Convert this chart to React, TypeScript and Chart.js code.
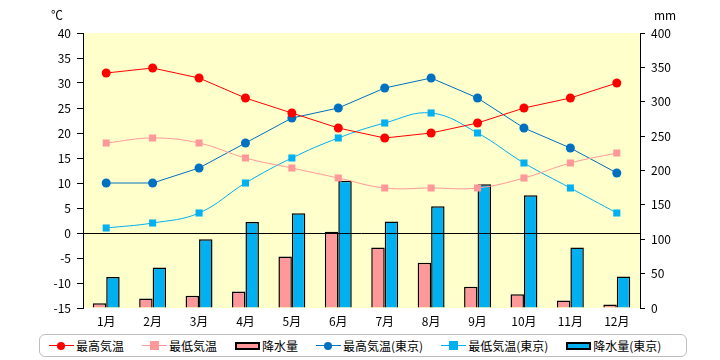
import React, { useEffect, useRef } from "react";
import { Chart, registerables } from "chart.js";

Chart.register(...registerables);

const months = ["1月", "2月", "3月", "4月", "5月", "6月", "7月", "8月", "9月", "10月", "11月", "12月"];
const maxTemp = [32, 33, 31, 27, 24, 21, 19, 20, 22, 25, 27, 30];
const minTemp = [18, 19, 18, 15, 13, 11, 9, 9, 9, 11, 14, 16];
const precip = [7, 14, 18, 24, 75, 111, 88, 66, 31, 20, 11, 5];
const tokyoMax = [10, 10, 13, 18, 23, 25, 29, 31, 27, 21, 17, 12];
const tokyoMin = [1, 2, 4, 10, 15, 19, 22, 24, 20, 14, 9, 4];
const tokyoPrecip = [45, 59, 100, 125, 138, 185, 126, 148, 180, 164, 88, 46];

const tempTicks = { min: -15, max: 40, step: 5 };
const mmTicks = { min: 0, max: 400, step: 50 };

const FONT = '"Noto Sans CJK JP", sans-serif';

const C_RED = "#FF0000";
const C_PINK = "#FF9999";
const C_DBLUE = "#0070C0";
const C_LBLUE = "#00B0F0";

const legendItems = [
  { label: "最高気温", kind: "line", color: C_RED, marker: "circle" },
  { label: "最低気温", kind: "line", color: C_PINK, marker: "square" },
  { label: "降水量", kind: "bar", color: C_PINK, marker: "" },
  { label: "最高気温(東京)", kind: "line", color: C_DBLUE, marker: "circle" },
  { label: "最低気温(東京)", kind: "line", color: C_LBLUE, marker: "square" },
  { label: "降水量(東京)", kind: "bar", color: C_LBLUE, marker: "" },
];

const decorPlugin = {
  id: "decor",
  beforeDraw(chart: any) {
    const { ctx, chartArea } = chart;
    ctx.save();
    ctx.fillStyle = "#FFFFCC";
    ctx.fillRect(chartArea.left, chartArea.top, chartArea.right - chartArea.left, chartArea.bottom - chartArea.top);
    ctx.restore();
  },
  afterDatasetsDraw(chart: any) {
    const { ctx, chartArea, scales } = chart;
    const y0 = Math.round(scales.y.getPixelForValue(0)) + 0.5;
    ctx.save();
    ctx.strokeStyle = "#000";
    ctx.lineWidth = 1;
    ctx.beginPath();
    ctx.moveTo(chartArea.left, y0);
    ctx.lineTo(chartArea.right, y0);
    ctx.stroke();
    ctx.fillStyle = "#000";
    ctx.font = "12px " + FONT;
    ctx.textAlign = "center";
    ctx.textBaseline = "middle";
    ctx.fillText("℃", chartArea.left - 26, 15);
    ctx.fillText("mm", chartArea.right + 25, 15);
    ctx.restore();
  },
};

export default function App() {
  const ref = useRef<HTMLCanvasElement>(null);

  useEffect(() => {
    if (!ref.current) return;
    const lineDs = (label: string, data: number[], color: string, style: string, tension: number) => ({
      type: "line" as const,
      label,
      data,
      yAxisID: "y",
      borderColor: color,
      backgroundColor: color,
      borderWidth: 1,
      pointStyle: style,
      pointRadius: style === "rect" ? 5 : 4.5,
      pointBorderWidth: 0,
      tension,
      order: 0,
    });
    const barDs = (label: string, data: number[], color: string) => ({
      type: "bar" as const,
      label,
      data,
      yAxisID: "y2",
      backgroundColor: color,
      borderColor: "#000",
      borderWidth: 1.5,
      categoryPercentage: 0.58,
      barPercentage: 1.0,
      order: 1,
    });
    const chart = new Chart(ref.current, {
      type: "bar",
      data: {
        labels: months,
        datasets: [
          lineDs("最高気温", maxTemp, C_RED, "circle", 0),
          lineDs("最低気温", minTemp, C_PINK, "rect", 0.4),
          barDs("降水量", precip, C_PINK),
          lineDs("最高気温(東京)", tokyoMax, C_DBLUE, "circle", 0),
          lineDs("最低気温(東京)", tokyoMin, C_LBLUE, "rect", 0.4),
          barDs("降水量(東京)", tokyoPrecip, C_LBLUE),
        ] as any,
      },
      options: {
        responsive: false,
        animation: false,
        layout: { padding: { top: 33, left: 0, right: 0, bottom: 0 } },
        plugins: { legend: { display: false }, tooltip: { enabled: false } },
        scales: {
          x: {
            offset: true,
            grid: { display: false, drawTicks: false },
            border: { display: false },
            ticks: { color: "#000", font: { family: FONT, size: 12 }, padding: 6, maxRotation: 0 },
            afterFit(s: any) { s.height = 22; },
          },
          y: {
            position: "left",
            min: tempTicks.min,
            max: tempTicks.max,
            ticks: { stepSize: tempTicks.step, color: "#000", font: { family: FONT, size: 12 }, padding: 6 },
            grid: { drawOnChartArea: false, drawTicks: true, tickLength: 6, color: "#000" },
            border: { display: true, color: "#000", width: 1 },
            afterFit(s: any) { s.width = 83; },
          },
          y2: {
            position: "right",
            min: mmTicks.min,
            max: mmTicks.max,
            ticks: { stepSize: mmTicks.step, color: "#000", font: { family: FONT, size: 12 }, padding: 6 },
            grid: { drawOnChartArea: false, drawTicks: true, tickLength: 5, color: "#000" },
            border: { display: true, color: "#000", width: 1 },
            afterFit(s: any) { s.width = 80; },
          },
        },
      } as any,
      plugins: [decorPlugin],
    });
    return () => chart.destroy();
  }, []);

  return (
    <div style={{ position: "fixed", left: 0, top: 0, width: 720, height: 360, background: "#fff", fontFamily: FONT }}>
      <canvas ref={ref} width={720} height={330} style={{ display: "block" }} />
      <div
        style={{
          position: "absolute",
          left: 39,
          top: 334,
          width: 648,
          height: 23,
          border: "1px solid #BDBDBD",
          borderRadius: 6,
          boxSizing: "border-box",
          display: "flex",
          alignItems: "center",
          paddingLeft: 9,
          gap: 18,
          fontSize: 12,
          color: "#000",
          whiteSpace: "nowrap",
        }}
      >
        {legendItems.map((it) => (
          <div key={it.label} style={{ display: "flex", alignItems: "center" }}>
            {it.kind === "line" ? (
              <div style={{ position: "relative", width: 25, height: 10, marginRight: 2 }}>
                <div style={{ position: "absolute", left: 0, right: 0, top: 4.5, height: 1, background: it.color }} />
                <div
                  style={{
                    position: "absolute",
                    left: 8,
                    top: it.marker === "circle" ? 1 : 0.5,
                    width: it.marker === "circle" ? 8 : 9,
                    height: it.marker === "circle" ? 8 : 9,
                    borderRadius: it.marker === "circle" ? "50%" : 0,
                    background: it.color,
                  }}
                />
              </div>
            ) : (
              <div
                style={{
                  width: 25,
                  height: 8,
                  marginRight: 2,
                  background: it.color,
                  border: "2px solid #000",
                  boxSizing: "border-box",
                }}
              />
            )}
            <span>{it.label}</span>
          </div>
        ))}
      </div>
    </div>
  );
}
